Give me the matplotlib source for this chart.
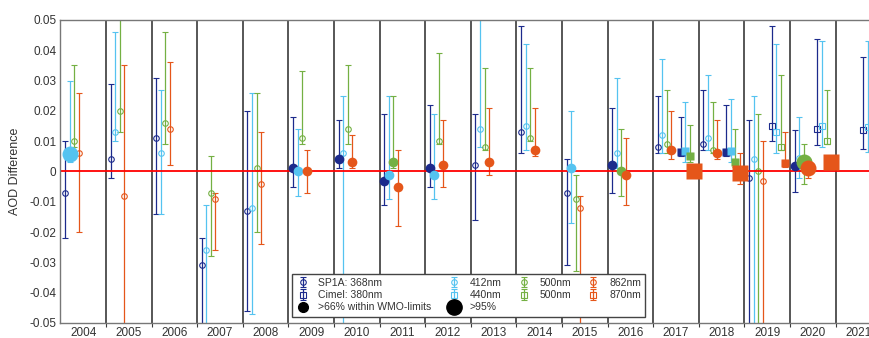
import numpy as np
import matplotlib
matplotlib.use('Agg')
import matplotlib.pyplot as plt
from matplotlib.lines import Line2D
from matplotlib.ticker import FuncFormatter

plt.rcParams['font.family'] = ['Liberation Sans', 'DejaVu Sans']

years = np.arange(2004, 2022)
nan = np.nan

# status: 0 = open marker, 1 = >66% within WMO limits, 2 = >95%
# SP1A 368nm (circle)
sp368 = [-0.007, 0.004, 0.011, -0.031, -0.013, 0.001, 0.004, -0.003, 0.001, 0.002, 0.013, -0.007, 0.002, 0.008, 0.009, -0.002, 0.0018, nan]
sp368_lo = [-0.022, -0.002, -0.014, -0.06, -0.046, -0.005, 0.001, -0.011, -0.005, -0.016, 0.006, -0.031, -0.007, 0.006, 0.007, -0.06, -0.0069, nan]
sp368_hi = [0.010, 0.029, 0.031, -0.022, 0.020, 0.018, 0.017, 0.019, 0.022, 0.019, 0.048, 0.004, 0.021, 0.025, 0.027, 0.017, 0.0138, nan]
sp368_st = [0, 0, 0, 0, 0, 1, 1, 1, 1, 0, 0, 0, 1, 0, 0, 0, 1, 0]

# SP1A 412nm (circle)
sp412 = [0.0057, 0.013, 0.006, -0.026, -0.012, 0.0, 0.006, -0.001, -0.001, 0.014, 0.015, 0.001, 0.006, 0.012, 0.011, 0.004, 0.0044, nan]
sp412_lo = [0.003, 0.010, -0.014, -0.06, -0.047, -0.008, -0.06, -0.009, -0.009, 0.008, 0.007, -0.017, 0.001, 0.006, 0.007, -0.06, -0.002, nan]
sp412_hi = [0.030, 0.046, 0.027, -0.011, 0.026, 0.014, 0.025, 0.025, 0.019, 0.055, 0.042, 0.020, 0.031, 0.037, 0.032, 0.025, 0.018, nan]
sp412_st = [2, 0, 0, 0, 0, 1, 0, 1, 1, 0, 0, 1, 0, 0, 0, 0, 0, 0]

# SP1A 500nm (circle)
sp500 = [0.010, 0.020, 0.016, -0.007, 0.001, 0.011, 0.014, 0.003, 0.010, 0.008, 0.011, -0.009, 0.0, 0.009, 0.007, 0.0, 0.003, nan]
sp500_lo = [0.008, 0.013, 0.009, -0.028, -0.020, 0.009, 0.009, 0.001, 0.009, 0.007, 0.010, -0.033, -0.008, 0.006, 0.006, -0.06, -0.004, nan]
sp500_hi = [0.035, 0.055, 0.046, 0.005, 0.026, 0.033, 0.035, 0.025, 0.039, 0.034, 0.034, -0.001, 0.014, 0.027, 0.023, 0.019, 0.009, nan]
sp500_st = [0, 0, 0, 0, 0, 0, 0, 1, 0, 0, 0, 0, 1, 0, 0, 0, 2, 0]

# SP1A 862nm (circle)
sp862 = [0.006, -0.008, 0.014, -0.009, -0.004, 0.0, 0.003, -0.005, 0.002, 0.003, 0.007, -0.012, -0.001, 0.007, 0.006, -0.003, 0.001, nan]
sp862_lo = [-0.020, -0.06, 0.002, -0.026, -0.024, -0.007, 0.001, -0.018, -0.005, -0.001, 0.005, -0.06, -0.011, 0.004, 0.004, -0.06, -0.002, nan]
sp862_hi = [0.026, 0.035, 0.036, -0.007, 0.013, 0.007, 0.012, 0.007, 0.017, 0.021, 0.021, -0.008, 0.011, 0.020, 0.017, 0.010, 0.004, nan]
sp862_st = [0, 0, 0, 0, 0, 1, 1, 1, 1, 1, 1, 0, 1, 1, 1, 0, 2, 0]

# Cimel 380nm (square)
ci380 = [nan] * 13 + [0.0065, 0.0065, 0.015, 0.0139, 0.0136]
ci380_lo = [nan] * 13 + [0.005, 0.005, 0.010, 0.0088, 0.0074]
ci380_hi = [nan] * 13 + [0.018, 0.022, 0.048, 0.0437, 0.0377]
ci380_st = [0] * 13 + [1, 1, 0, 0, 0]

# Cimel 440nm (square)
ci440 = [nan] * 13 + [0.0067, 0.0067, 0.013, 0.015, 0.0147]
ci440_lo = [nan] * 13 + [0.003, 0.003, 0.006, 0.008, 0.0065]
ci440_hi = [nan] * 13 + [0.023, 0.024, 0.042, 0.043, 0.043]
ci440_st = [0] * 13 + [1, 1, 0, 0, 0]

# Cimel 500nm (square)
ci500 = [nan] * 13 + [0.005, 0.003, 0.008, 0.010, 0.0072]
ci500_lo = [nan] * 13 + [0.003, 0.0015, 0.007, 0.009, 0.0047]
ci500_hi = [nan] * 13 + [0.0155, 0.014, 0.032, 0.027, 0.0228]
ci500_st = [0] * 13 + [1, 1, 0, 0, 0]

# Cimel 870nm (square)
ci870 = [nan] * 13 + [0.0003, -0.0004, 0.0027, 0.003, 0.003]
ci870_lo = [nan] * 13 + [-0.001, -0.004, 0.0015, 0.001, 0.001]
ci870_hi = [nan] * 13 + [0.002, 0.006, 0.013, 0.005, 0.005]
ci870_st = [0] * 13 + [2, 2, 1, 2, 2]

dark = '#1c2a8c'
light = '#55c3f0'
green = '#74b043'
orange = '#e5561a'

series = [
    ('SP1A: 368nm', sp368, sp368_lo, sp368_hi, sp368_st, dark, 'o', -0.4),
    ('412nm', sp412, sp412_lo, sp412_hi, sp412_st, light, 'o', -0.3),
    ('500nm', sp500, sp500_lo, sp500_hi, sp500_st, green, 'o', -0.2),
    ('862nm', sp862, sp862_lo, sp862_hi, sp862_st, orange, 'o', -0.1),
    ('Cimel: 380nm', ci380, ci380_lo, ci380_hi, ci380_st, dark, 's', 0.1),
    ('440nm', ci440, ci440_lo, ci440_hi, ci440_st, light, 's', 0.2),
    ('500nm', ci500, ci500_lo, ci500_hi, ci500_st, green, 's', 0.3),
    ('870nm', ci870, ci870_lo, ci870_hi, ci870_st, orange, 's', 0.4),
]

fig = plt.figure(figsize=(8.7, 3.38), dpi=100)
ax = fig.add_axes([0.0695, 0.0444, 0.9434, 0.8965])

ax.axhline(0, color='#ff0000', lw=1.3, zorder=2.5)
for b in np.arange(2004.5, 2021.5, 1):
    ax.axvline(b, color='#3a3a3a', lw=1.2, zorder=1)

handles = {}
for name, v, lo, hi, st, col, mk, off in series:
    v = np.array(v, dtype=float)
    lo = np.array(lo, dtype=float)
    hi = np.array(hi, dtype=float)
    st = np.array(st)
    x = years + off
    yerr = np.vstack([v - lo, hi - v])
    ok = ~np.isnan(v)
    eb = ax.errorbar(x[ok], v[ok], yerr=yerr[:, ok], fmt=mk, ms=4, mfc='none',
                     mec=col, mew=0.8, ecolor=col, elinewidth=0.9, capsize=2.2,
                     capthick=0.9, zorder=2)
    handles[name + mk] = eb
    big = 11.5 if mk == 'o' else 11
    med = 7 if mk == 'o' else 6.2
    for s, ms in [(1, med), (2, big)]:
        sel = ok & (st == s)
        if sel.any():
            ax.plot(x[sel], v[sel], ls='none', marker=mk, ms=ms, color=col,
                    mec='none', zorder=3)

ax.set_xlim(2003.5, 2021.5)
ax.set_ylim(-0.05, 0.05)
ax.set_yticks(np.arange(-0.05, 0.051, 0.01))
ax.yaxis.set_major_formatter(FuncFormatter(lambda y, p: '0' if abs(y) < 1e-9 else f'{y:.2f}'))
ax.set_xticks(np.arange(2004.5, 2021.5, 1))
ax.set_xticklabels([])
ax.set_xticks(years, minor=True)
ax.set_xticklabels([str(y) for y in years], minor=True)
ax.tick_params(axis='x', which='major', length=3, direction='out', color='#3a3a3a')
ax.tick_params(axis='x', which='minor', length=0, pad=3, labelsize=8.5, labelcolor='#333333')
ax.tick_params(axis='y', length=0, pad=3, labelsize=8.5, labelcolor='#333333')
ax.set_ylabel('AOD Difference', fontsize=9, color='#333333', labelpad=6)
for sp in ax.spines.values():
    sp.set_color('#777777')
    sp.set_linewidth(1)

h66 = Line2D([], [], ls='none', marker='o', ms=7, color='k')
h95 = Line2D([], [], ls='none', marker='o', ms=11, color='k')
leg_handles = [handles['SP1A: 368nmo'], handles['Cimel: 380nms'], h66,
               handles['412nmo'], handles['440nms'], h95,
               handles['500nmo'], handles['500nms'],
               handles['862nmo'], handles['870nms']]
leg_labels = ['SP1A: 368nm', 'Cimel: 380nm', '>66% within WMO-limits',
              '412nm', '440nm', '>95%', '500nm', '500nm', '862nm', '870nm']
leg = ax.legend(leg_handles, leg_labels, ncol=4, loc='lower left',
                bbox_to_anchor=(0.282, 0.021), fontsize=7.5, frameon=True,
                fancybox=False, edgecolor='#444444', framealpha=1,
                borderpad=0.4, labelspacing=0.22, columnspacing=1.5,
                handlelength=1.25, handletextpad=0.9, borderaxespad=0)
leg.get_frame().set_linewidth(1)
for t in leg.get_texts():
    t.set_color('#333333')

fig.savefig('out.png', dpi=100)
